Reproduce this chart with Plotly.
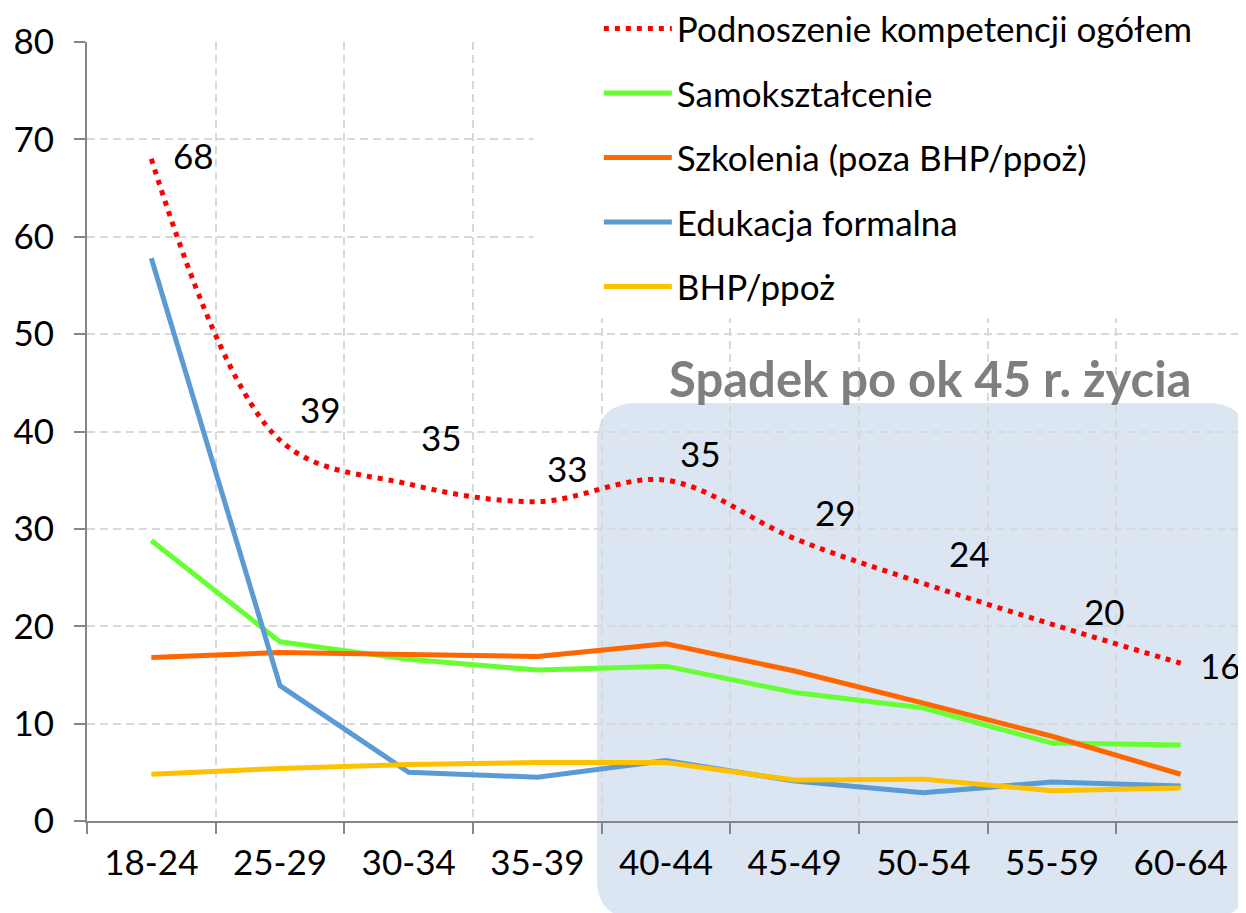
import plotly.graph_objects as go

categories = ["18-24", "25-29", "30-34", "35-39", "40-44", "45-49", "50-54", "55-59", "60-64"]

podnoszenie = [68.0, 39.1, 34.6, 32.8, 35.0, 29.0, 24.4, 20.2, 16.2]
samoksztalcenie = [28.8, 18.4, 16.6, 15.5, 15.9, 13.2, 11.6, 8.0, 7.8]
szkolenia = [16.8, 17.3, 17.1, 16.9, 18.2, 15.4, 12.1, 8.7, 4.8]
edukacja = [57.8, 13.9, 5.0, 4.5, 6.2, 4.1, 2.9, 4.0, 3.6]
bhp = [4.8, 5.4, 5.8, 6.0, 6.0, 4.2, 4.3, 3.1, 3.4]

names = ["Podnoszenie kompetencji ogółem", "Samokształcenie", "Szkolenia (poza BHP/ppoż)",
         "Edukacja formalna", "BHP/ppoż"]

# data label offsets (px) for the red series labels
label_dx = [42, 40, 33, 30, 34, 41, 46, 52, 40]
label_dy = [4, 31, 47, 34, 27, 27, 30, 13, -2]

FONT = "Lato, 'Open Sans', sans-serif"
FS = 35

fig = go.Figure()

def add_line(y, name, color, rank, dash=None, shape="linear"):
    fig.add_trace(go.Scatter(
        x=categories, y=y, name=name, mode="lines",
        line=dict(color=color, width=5, dash=dash, shape=shape),
        legendrank=rank, legendgroup=name,
    ))

add_line(samoksztalcenie, names[1], "#66FF33", 2)
add_line(szkolenia, names[2], "#FF6600", 3)
add_line(edukacja, names[3], "#5B9BD5", 4)
add_line(bhp, names[4], "#FFC000", 5)
add_line(podnoszenie, names[0], "#FF0000", 1, dash="5px,6px", shape="spline")

annotations = []
for c, v, dx, dy in zip(categories, podnoszenie, label_dx, label_dy):
    annotations.append(dict(x=c, y=v, xref="x", yref="y", text=str(round(v)),
                            showarrow=False, xshift=dx, yshift=dy,
                            font=dict(family=FONT, size=FS, color="#000000")))

annotations.append(dict(x=0.728, y=0.5687, xref="paper", yref="paper",
                        xanchor="center", yanchor="middle",
                        text="<b>Spadek po ok 45 r. życia</b>", showarrow=False,
                        font=dict(family=FONT, size=49, color="#7F7F7F")))

# rounded highlight box (paper coords)
x0, x1, y0, y1 = 0.4404, 1.002, -0.125, 0.5366
rx, ry = 0.0345, 0.0513
path = (f"M {x0+rx},{y1} L {x1-rx},{y1} Q {x1},{y1} {x1},{y1-ry} "
        f"L {x1},{y0+ry} Q {x1},{y0} {x1-rx},{y0} L {x0+rx},{y0} "
        f"Q {x0},{y0} {x0},{y0+ry} L {x0},{y1-ry} Q {x0},{y1} {x0+rx},{y1} Z")

shapes = [
    dict(type="path", path=path, xref="paper", yref="paper", layer="below",
         fillcolor="#DCE6F2", line=dict(width=0)),
    dict(type="rect", xref="x", yref="y", x0=2.97, x1=9.0, y0=51.6, y1=90,
         layer="between", fillcolor="#FFFFFF", line=dict(width=0)),
]

fig.update_layout(
    width=1238, height=905,
    margin=dict(l=79, r=1, t=34, b=92, autoexpand=False),
    paper_bgcolor="#FFFFFF", plot_bgcolor="rgba(0,0,0,0)",
    font=dict(family=FONT, size=FS, color="#000000"),
    showlegend=True,
    legend=dict(x=0.442, y=1.055, xanchor="left", yanchor="top", itemwidth=68,
                bgcolor="rgba(255,255,255,0)", borderwidth=0, traceorder="grouped",
                tracegroupgap=16, font=dict(family=FONT, size=FS, color="#000000")),
    annotations=annotations,
    shapes=shapes,
)

fig.update_xaxes(
    type="category", range=[-0.5, 8.5], tickson="boundaries",
    ticks="outside", ticklen=11, tickwidth=2, tickcolor="#868686",
    showline=True, linecolor="#868686", linewidth=2,
    showgrid=True, gridcolor="#D9D9D9", gridwidth=2, griddash="8px,5px",
    tickfont=dict(family=FONT, size=FS, color="#000000"), ticklabelstandoff=10,
    zeroline=False, automargin=False,
)
fig.update_yaxes(
    range=[0, 80], dtick=10, tick0=0,
    ticks="outside", ticklen=11, tickwidth=2, tickcolor="#868686",
    showline=True, linecolor="#868686", linewidth=2,
    showgrid=True, gridcolor="#D9D9D9", gridwidth=2, griddash="8px,5px",
    tickfont=dict(family=FONT, size=FS, color="#000000"), ticklabelstandoff=13,
    zeroline=False, automargin=False,
)

fig.write_html("out.html")
